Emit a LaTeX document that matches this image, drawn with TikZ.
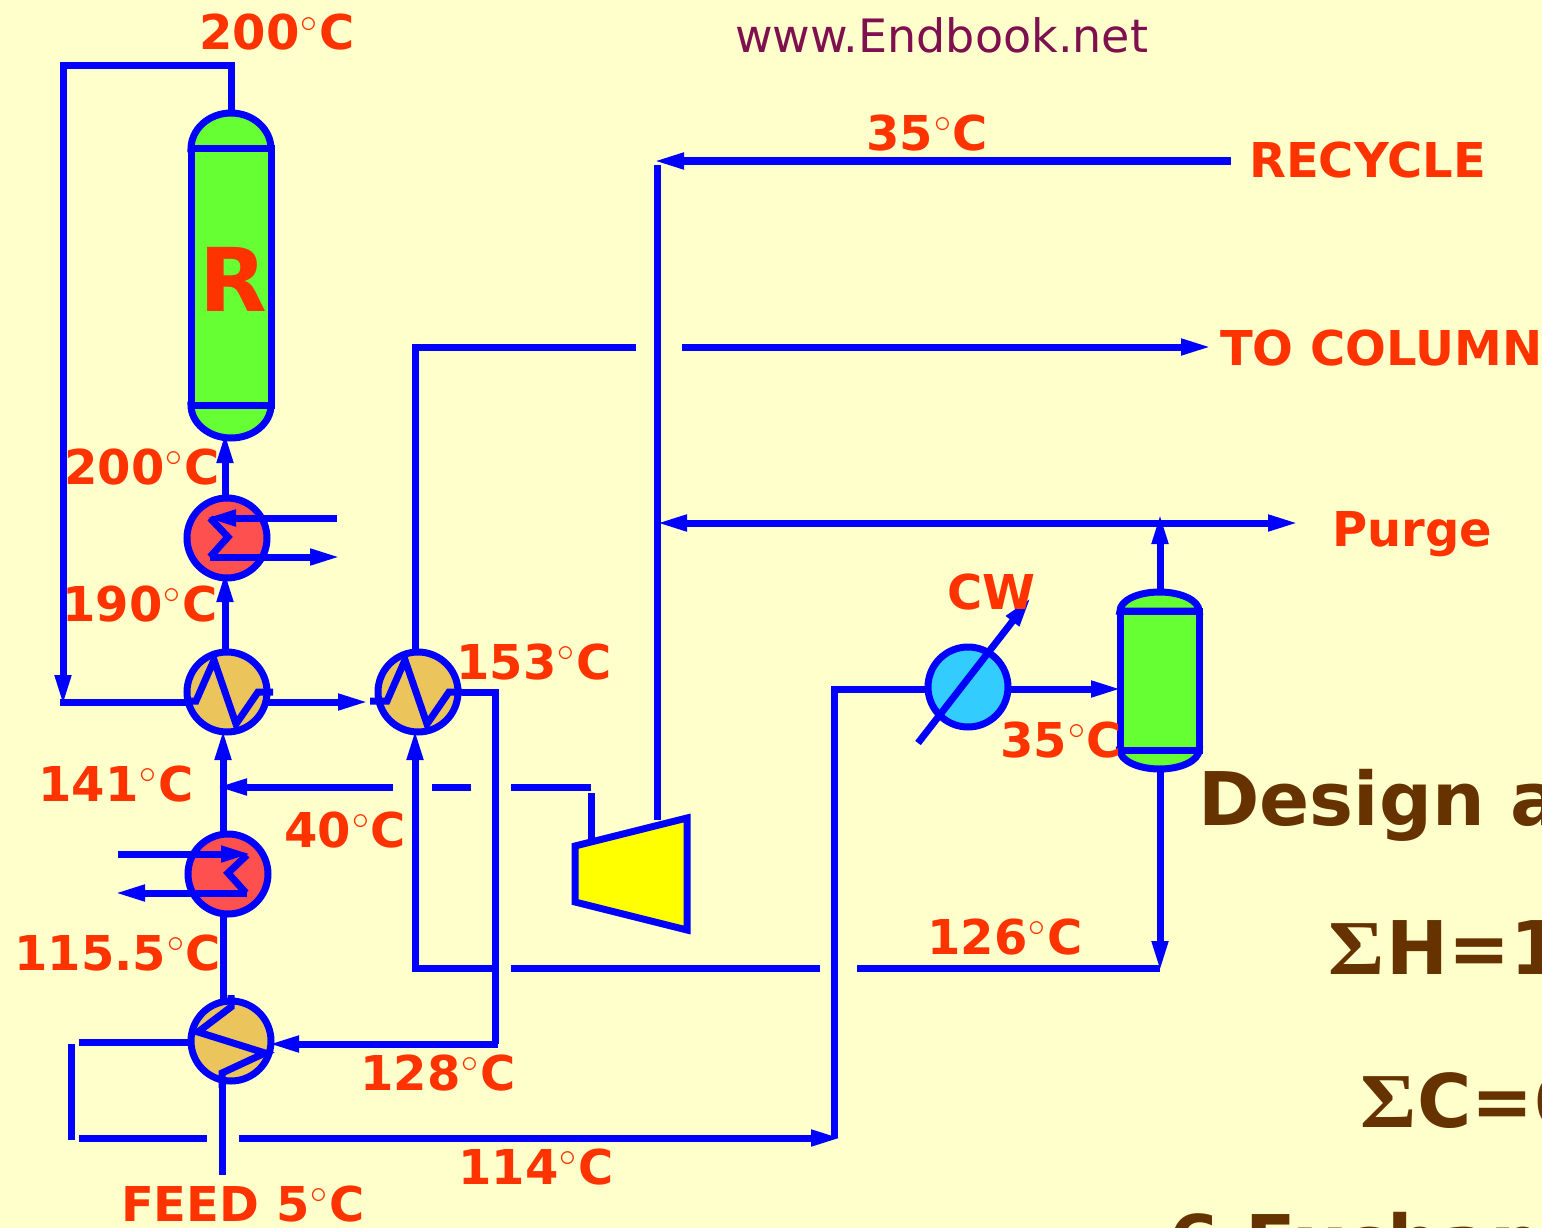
\documentclass[tikz,border=0pt]{standalone}
\usepackage{fix-cm}
\usepackage{fontspec}
\usepackage{xcolor}
\usepackage{graphicx}
\usepackage{tikz}
\usetikzlibrary{arrows.meta, positioning}
\setmainfont{DejaVu Sans}
\newfontfamily\sigmafont{Liberation Serif}
\definecolor{paper}{HTML}{FFFFCC}
\definecolor{pipe}{HTML}{0000FF}
\definecolor{temp}{HTML}{FF3300}
\definecolor{vesselgreen}{HTML}{66FF33}
\definecolor{hot}{HTML}{FF5050}
\definecolor{tan}{HTML}{ECC45C}
\definecolor{cool}{HTML}{33CCFF}
\definecolor{compyellow}{HTML}{FFFF00}
\definecolor{title}{HTML}{663300}
\definecolor{site}{HTML}{7F1050}
\newcommand{\degC}{\kern1pt$^{\circ}$\kern1.5pt C}
\newcommand{\bigsig}{\scalebox{1.16}[1.05]{\sigmafont\char"03A3}\kern2pt}

\begin{document}
\begin{tikzpicture}[
    x=1pt, y=-1pt,
    pipeline/.style={draw=pipe, line width=7pt},
    flow/.style={pipeline, -{Triangle[length=31pt, width=15pt]}, shorten >=-4pt},
    twoway/.style={pipeline, {Triangle[length=31pt, width=15pt]}-{Triangle[length=31pt, width=15pt]}, shorten >=-4pt, shorten <=-4pt},
    coil/.style={pipeline, line join=miter},
    exch/.style={circle, draw=pipe, line width=7pt, minimum size=80pt, inner sep=0pt},
    heater/.style={exch, fill=hot},
    recov/.style={exch, fill=tan},
    cooler/.style={exch, fill=cool},
    vessel/.style={rectangle, draw=pipe, fill=vesselgreen, line width=7pt, inner sep=0pt},
    label/.style={anchor=base west, inner sep=0pt, text=temp, font=\fontsize{48}{48}\selectfont\bfseries},
    heading/.style={anchor=base west, inner sep=0pt, text=title, font=\fontsize{74}{74}\selectfont\bfseries},
]
    \fill[paper] (0,0) rectangle (1542,1228);
    \useasboundingbox (0,0) rectangle (1542,1228);

    % Domes under the vessels
    \path[draw=pipe, fill=vesselgreen, line width=7pt] (191,149) arc[start angle=180, end angle=0, x radius=40pt, y radius=36pt] -- cycle;
    \path[draw=pipe, fill=vesselgreen, line width=7pt] (191,405) arc[start angle=180, end angle=360, x radius=40pt, y radius=33pt] -- cycle;
    \path[draw=pipe, fill=vesselgreen, line width=7pt] (1120,611) arc[start angle=180, end angle=0, x radius=39.5pt, y radius=19pt] -- cycle;
    \path[draw=pipe, fill=vesselgreen, line width=7pt] (1120,750) arc[start angle=180, end angle=360, x radius=39.5pt, y radius=19pt] -- cycle;

    % Equipment
    \node[vessel, minimum width=80pt, minimum height=256pt] (reactor) at (231,277) {};
    \node[vessel, minimum width=79pt, minimum height=139pt] (flash) at (1159.5,680.5) {};
    \node[heater] (topheater) at (227,538) {};
    \node[recov] (hxone) at (227,692) {};
    \node[recov] (hxtwo) at (418,692) {};
    \node[heater] (lowheater) at (228,874) {};
    \node[recov] (feedhx) at (231,1041) {};
    \node[cooler] (cwcooler) at (968,687) {};
    \draw[draw=pipe, fill=compyellow, line width=7pt] (575,846) -- (687,818) -- (687,930) -- (575,902) -- cycle;

    % Free line ends
    \coordinate (comptop) at (591,840);
    \coordinate (compout) at (657,820);
    \coordinate (recyclein) at (1231,161);
    \coordinate (recycletip) at (657,161);
    \coordinate (reactortop) at (231,113);
    \coordinate (loopleft) at (63,66);
    \coordinate (loopright) at (231,66);

    % Reactor loop
    \draw[flow] (reactortop) -- (loopright) -- (loopleft) -- (63,702);
    \draw[pipeline] (60,702) -- (190,702);
    \draw[flow] (225,495) -- (225,436);
    \draw[flow] (225,652) -- (225,575);
    \draw[flow] (223,833) -- (223,733);
    \draw[pipeline] (223,1000) -- (223,913);
    \draw[pipeline] (222,1175) -- (222,1081);
    \draw[flow] (266,702) -- (365,702);

    % Top heater service
    \draw[flow] (337,518) -- (209,518);
    \draw[flow] (210,557) -- (337,557);
    \draw[coil] (210,518) -- (228,537) -- (210,557);

    % Low heater service
    \draw[flow] (118,854) -- (248,854);
    \draw[flow] (247,893) -- (118,893);
    \draw[coil] (247,855) -- (228,873) -- (246,893);

    % Exchanger coils
    \draw[coil] ([shift={(-40,9)}]hxone.center) -- ++(9,0) -- ++(18,-41) -- ++(22,64) -- ++(22,-32) -- ++(15,0);
    \draw[coil] ([shift={(-48,9)}]hxtwo.center) -- ++(17,0) -- ++(18,-41) -- ++(22,64) -- ++(22,-32) -- ++(13,0);
    \draw[coil] (231,995) -- (231,1007) -- (198,1032) -- (265,1053) -- (222,1073) -- (222,1088);

    % Hot stream to the feed exchanger
    \draw[pipeline] (462,692) -- (495,692) -- (495,1044);
    \draw[flow] (498,1044) -- (272,1044);

    % Gas to column
    \draw[pipeline] (415,650) -- (415,347) -- (636,347);
    \draw[flow] (682,347) -- (1208,347);

    % Recycle and purge
    \draw[flow] (recyclein) -- (recycletip);
    \draw[pipeline] (compout) -- (657,165);
    \draw[twoway] (660,523) -- (1295,523);
    \draw[flow] (1160,592) -- (1160,517);

    % Compressor line
    \draw[pipeline] (comptop) -- (591,793);
    \draw[pipeline] (591,787) -- (511,787);
    \draw[pipeline] (471,787) -- (432,787);
    \draw[flow] (393,787) -- (220,787);

    % Flash bottoms
    \draw[flow] (1160,769) -- (1160,968);
    \draw[pipeline] (1160,968) -- (857,968);
    \draw[pipeline] (820,968) -- (511,968);
    \draw[pipeline] (493,968) -- (412,968);
    \draw[flow] (415,971) -- (415,733);

    % Feed exchanger outlet to cooler
    \draw[pipeline] (79,1042) -- (190,1042);
    \draw[pipeline] (71,1044) -- (71,1140);
    \draw[pipeline] (79,1138) -- (207,1138);
    \draw[flow] (239,1138) -- (838,1138);
    \draw[pipeline] (834,1138) -- (834,689) -- (927,689);
    \draw[flow] (1010,689) -- (1118,689);
    \draw[flow] (918,743) -- (1029,600);

    % Temperatures and stream names
    \node[label] (ttop) at (199,50) {200\degC};
    \node[label] (trecycle) at (866,150) {35\degC};
    \node[label] (recycle) at (1249,177) {RECYCLE};
    \node[label] (column) at (1220,365) {TO COLUMN};
    \node[label] (purge) at (1332,546) {Purge};
    \node[label, font=\fontsize{88}{88}\selectfont\bfseries] (rname) at (199,311) {R};
    \node[label] (tinlet) at (64,484) {200\degC};
    \node[label] (thxone) at (62,621) {190\degC};
    \node[label] (thxtwo) at (456,679) {153\degC};
    \node[label] (cw) at (947,609) {CW};
    \node[label] (tflash) at (1000,757) {35\degC};
    \node[label] (tlow) at (38,801) {141\degC};
    \node[label] (tquench) at (284,847) {40\degC};
    \node[label] (tfeedout) at (14,970) {115.5\degC};
    \node[label] (tliquid) at (927,954) {126\degC};
    \node[label] (tback) at (360,1090) {128\degC};
    \node[label] (tcooler) at (458,1184) {114\degC};
    \node[label] (feed) at (121,1221) {FEED 5\degC};
    \node[anchor=base west, inner sep=0pt, text=site, font=\fontsize{46}{46}\selectfont] (site) at (735,53) {www.Endbook.net};

    % Side text running off the page
    \node[heading] (design) at (1198,825) {Design a};
    \node[heading] (sumh) at (1328,974) {\bigsig H=1};
    \node[heading] (sumc) at (1360,1127) {\bigsig\kern-1pt C=6};
    \node[heading] (count) at (1168,1268) {6 Exchan};
\end{tikzpicture}
\end{document}
